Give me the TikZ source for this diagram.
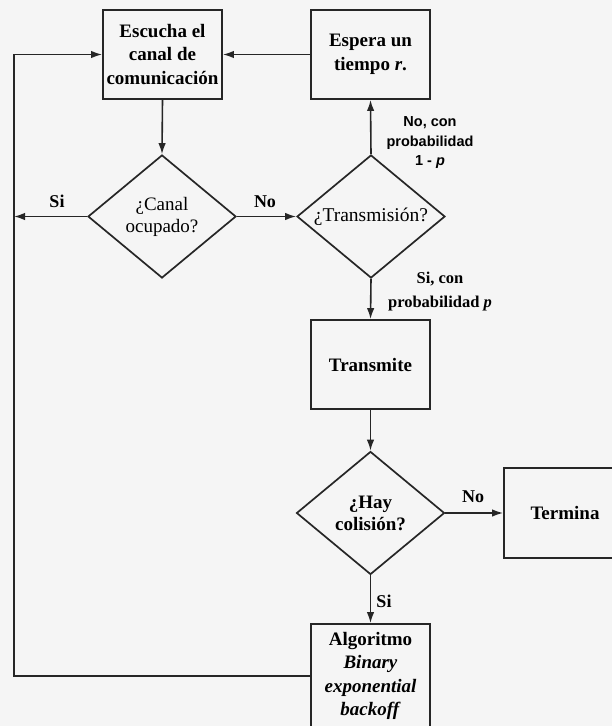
\documentclass[tikz,border=0pt]{standalone}
\usepackage{fontspec}
\setmainfont{Liberation Serif}
\newfontfamily\labelsans{Liberation Sans}
\usetikzlibrary{arrows.meta,shapes.geometric}

\begin{document}
\begin{tikzpicture}[x=1pt,y=-1pt,
  line/.style={draw=black!85,line width=1.6pt},
  arr/.style={line,-{Latex[length=11pt,width=7.5pt]}},
  procbox/.style={draw=black!85,line width=1.8pt,rectangle,inner sep=0pt,
    minimum width=119pt,minimum height=89pt,align=center,
    font=\fontsize{19}{23.5}\selectfont\bfseries},
  decision/.style={draw=black!85,line width=1.7pt,diamond,aspect=1.2,inner sep=0pt,
    minimum width=148pt,minimum height=123pt,align=center,
    font=\fontsize{19}{22}\selectfont},
  tag/.style={font=\fontsize{18}{20}\selectfont\bfseries,inner sep=0pt},
  note/.style={align=center,inner sep=0pt}]

% page area
\fill[black!4] (0,0) rectangle (612,726);
\useasboundingbox (0,0) rectangle (612,726);
\clip (0,0) rectangle (612,726);

% process boxes
\node[procbox] (escucha) at (162.5,54.5) {Escucha el\\canal de\\comunicación};
\node[procbox] (espera) at (370.5,54.5) {Espera un\\tiempo \textit{r}.};
\node[procbox] (transmite) at (370.5,364.5) {Transmite};
\node[procbox,minimum width=122pt,minimum height=90pt] (termina) at (565,513) {Termina};
\node[procbox,minimum height=104pt] (algo) at (370.5,676)
  {Algoritmo\\\textit{Binary}\\\textit{exponential}\\\textit{backoff}};

% decisions
\node[decision] (canal) at (162,216.5) {¿Canal\\ocupado?};
\node[decision,font=\fontsize{19.5}{22}\selectfont] (trans) at (371,216.5) {¿Transmisión?};
\node[decision,font=\fontsize{19}{22}\selectfont\bfseries] (hay) at (370.5,513) {¿Hay\\colisión?};

% corners of the return loop on the left
\coordinate (loopbot) at (14,676);
\coordinate (looptop) at (14,54.5);
\coordinate (loopmid) at (14,216.5);

% connectors
\draw[arr] (espera.west) -- (escucha.east);
\draw[arr] (algo.west) -- (loopbot) -- (looptop) -- (escucha.west);
\draw[arr] (escucha.south) -- (canal.north);
\draw[arr] (canal.west) -- (loopmid);
\draw[arr] (canal.east) -- (trans.west);
\draw[arr] (trans.north) -- (espera.south);
\draw[arr] (trans.south) -- (transmite.north);
\draw[arr] (transmite.south) -- (hay.north);
\draw[arr] (hay.east) -- (termina.west);
\draw[arr] (hay.south) -- (algo.north);

% branch labels
\node[tag] (lsi1) at (57,201) {Si};
\node[tag] (lno1) at (265,202) {No};
\node[note,font=\labelsans\fontsize{14.5}{19.5}\selectfont\bfseries] (lno2) at (430,143)
  {No, con\\probabilidad\\1 - \textit{p}};
\node[note,font=\fontsize{16.5}{24}\selectfont\bfseries] (lsi2) at (440,292)
  {Si, con\\probabilidad \textit{p}};
\node[tag] (lno3) at (473,497) {No};
\node[tag] (lsi3) at (384,601) {Si};
\end{tikzpicture}
\end{document}
